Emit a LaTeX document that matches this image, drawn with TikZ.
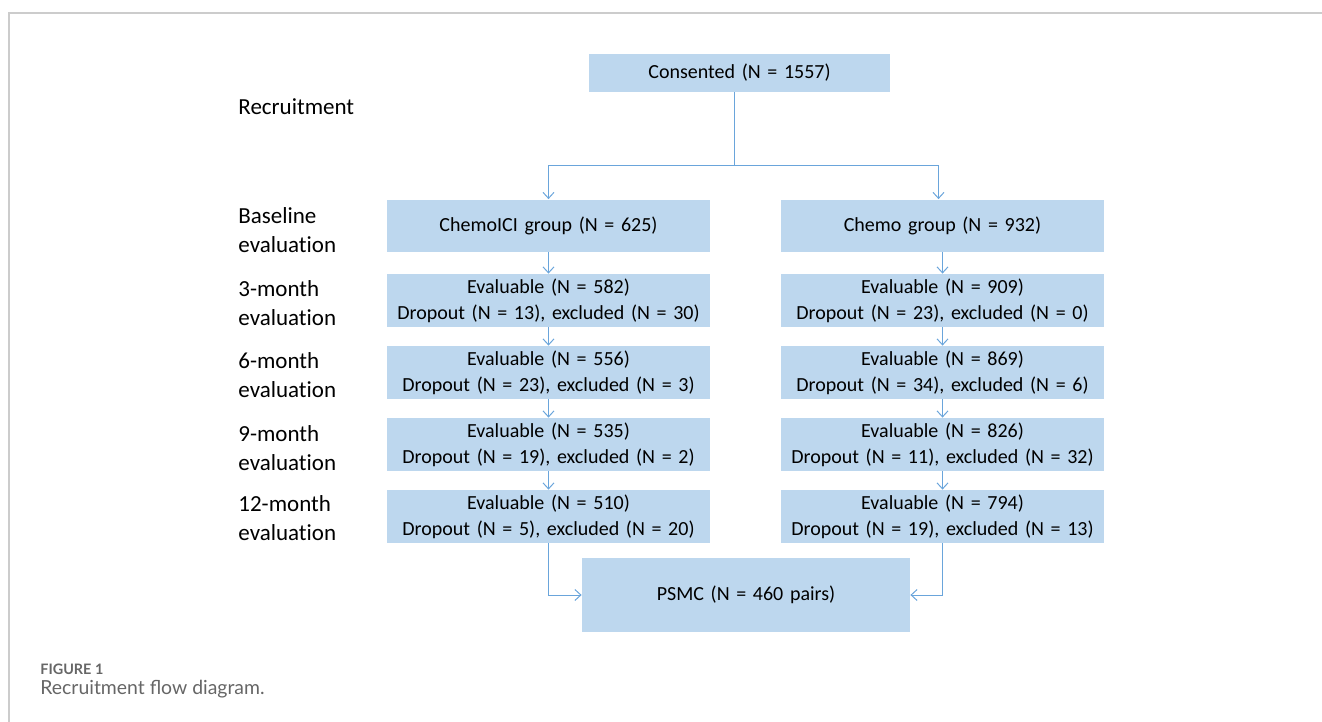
\documentclass[tikz,border=0pt]{standalone}
\usepackage{fontspec}
\setmainfont[Ligatures=NoCommon]{Carlito}
\newfontfamily\capfont{Lato}
\usetikzlibrary{arrows.meta,positioning}

\definecolor{boxblue}{HTML}{BDD7EE}
\definecolor{linkblue}{HTML}{6AA5DB}
\definecolor{framegray}{HTML}{CCCCCC}
\definecolor{capgray}{HTML}{666666}

\tikzstyle{block}=[rectangle,fill=boxblue,inner sep=0pt,text width=161.5pt,
align=center,minimum height=26.5pt,font=\fontsize{10}{13}\selectfont]
\tikzstyle{stage}=[anchor=west,inner sep=0pt,align=left,font=\fontsize{11.5}{14.5}\selectfont]
\tikzstyle{line} = [draw, line width=0.5pt, color=linkblue]
\tikzstyle{arrow} = [line, -{Straight Barb[length=3pt,width=5.5pt,line width=0.5pt]}]

\begin{document}
\begin{tikzpicture}[x=0.5pt,y=-0.5pt,node distance=36pt]
\useasboundingbox (0,0) rectangle (1322,722);
% frame
\draw [framegray, line width=0.6pt] (1322,13) -- (9,13) -- (9,722);

% boxes
\node [block,text width=150.5pt,minimum height=19pt] (consent) at (739.5,73) {Consented (N = 1557)};
\node [block,minimum height=26pt] (chemoici) at (548.5,225.5) {ChemoICI group (N = 625)};
\node [block,minimum height=26pt,right of=chemoici,node distance=197pt] (chemo) {Chemo group (N = 932)};
\node [block,below of=chemoici,node distance=37.5pt] (l3) {Evaluable (N = 582)\\Dropout (N = 13), excluded (N = 30)};
\node [block,below of=l3] (l6) {Evaluable (N = 556)\\Dropout (N = 23), excluded (N = 3)};
\node [block,below of=l6] (l9) {Evaluable (N = 535)\\Dropout (N = 19), excluded (N = 2)};
\node [block,below of=l9] (l12) {Evaluable (N = 510)\\Dropout (N = 5), excluded (N = 20)};
\node [block,right of=l3,node distance=197pt] (r3) {Evaluable (N = 909)\\Dropout (N = 23), excluded (N = 0)};
\node [block,right of=l6,node distance=197pt] (r6) {Evaluable (N = 869)\\Dropout (N = 34), excluded (N = 6)};
\node [block,right of=l9,node distance=197pt] (r9) {Evaluable (N = 826)\\Dropout (N = 11), excluded (N = 32)};
\node [block,right of=l12,node distance=197pt] (r12) {Evaluable (N = 794)\\Dropout (N = 19), excluded (N = 13)};
\node [block,text width=164pt,minimum height=37pt] (psmc) at (746,595) {PSMC (N = 460 pairs)};

% stage labels
\node [stage] (recruit) at (238,107) {Recruitment};
\node [stage] (base) at (238,230) {Baseline\\evaluation};
\node [stage] (m3) at (238,303) {3-month\\evaluation};
\node [stage] (m6) at (238,375) {6-month\\evaluation};
\node [stage] (m9) at (238,448) {9-month\\evaluation};
\node [stage] (m12) at (238,518) {12-month\\evaluation};

% links
\coordinate (split) at (734,165);
\path [line] (consent.south -| split) -- (split);
\path [arrow] (split) -| (chemoici.north);
\path [arrow] (split) -| ([xshift=-2pt]chemo.north);
\path [arrow] (chemoici) -- (l3);
\path [arrow] (l3) -- (l6);
\path [arrow] (l6) -- (l9);
\path [arrow] (l9) -- (l12);
\path [arrow] (chemo) -- (r3);
\path [arrow] (r3) -- (r6);
\path [arrow] (r6) -- (r9);
\path [arrow] (r9) -- (r12);
\path [arrow] (l12.south) |- (psmc.west);
\path [arrow] (r12.south) |- (psmc.east);

% caption
\node [anchor=base west,inner sep=0pt,font=\capfont\bfseries\fontsize{7.2}{8}\selectfont,text=capgray] (figno) at (40,674) {FIGURE 1};
\node [anchor=base west,inner sep=0pt,font=\capfont\fontsize{9.7}{11}\selectfont,text=capgray] (figcap) at (40,694) {Recruitment flow diagram.};
\end{tikzpicture}
\end{document}
